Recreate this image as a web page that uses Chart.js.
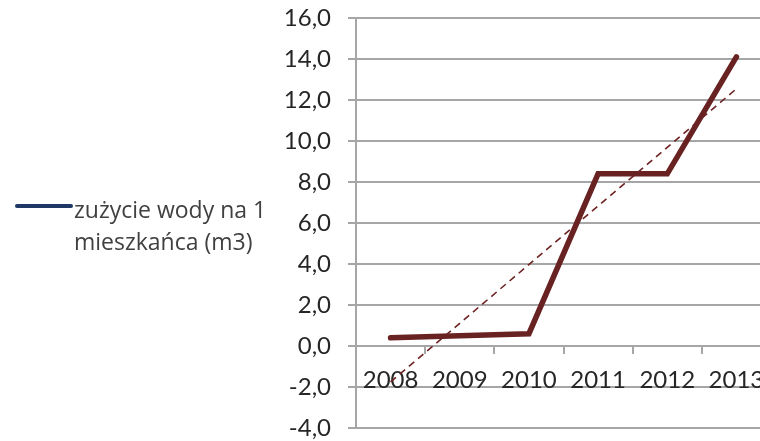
<!DOCTYPE html>
<html>
<head>
<meta charset="utf-8">
<script src="https://cdn.jsdelivr.net/npm/chart.js@4"></script>
<style>
  html, body { margin: 0; padding: 0; background: #fff; overflow: hidden; }
  #wrap { width: 760px; height: 441px; overflow: hidden; }
</style>
</head>
<body>
<div id="wrap"><canvas id="c" width="775" height="441"></canvas></div>
<script>
const years = ["2008", "2009", "2010", "2011", "2012", "2013"];
const water = [0.4, 0.5, 0.6, 8.4, 8.4, 14.1];
// trendline ends, the gap is spanned straight
const trend = [-1.75, null, null, null, null, 12.55];
const legendLines = ["zużycie wody na 1", "mieszkańca (m3)"];

const FONT = "Lato";

const sideLegend = {
  id: 'sideLegend',
  afterDraw(chart) {
    const ctx = chart.ctx;
    ctx.save();
    ctx.strokeStyle = '#1f3864';
    ctx.lineWidth = 4;
    ctx.lineCap = 'round';
    ctx.beginPath();
    ctx.moveTo(17, 206);
    ctx.lineTo(71, 206);
    ctx.stroke();
    ctx.fillStyle = '#404040';
    ctx.font = '23px "Open Sans"';
    ctx.textBaseline = 'middle';
    ctx.fillText(legendLines[0], 74, 211);
    ctx.fillText(legendLines[1], 74, 243);
    ctx.restore();
  }
};

// no extra room for label overflow, chart area comes from layout padding only
function noOverflow(s) {
  s.paddingTop = 0; s.paddingBottom = 0; s.paddingLeft = 0; s.paddingRight = 0;
}

new Chart(document.getElementById('c'), {
  type: 'line',
  data: {
    labels: years,
    datasets: [{
      label: 'trend',
      data: trend,
      spanGaps: true,
      borderColor: '#6e2323',
      borderWidth: 1.6,
      borderDash: [7, 5],
      pointRadius: 0,
      fill: false
    }, {
      label: legendLines.join(' '),
      data: water,
      borderColor: '#692222',
      borderWidth: 5.5,
      borderCapStyle: 'round',
      borderJoinStyle: 'miter',
      pointRadius: 0,
      tension: 0,
      fill: false
    }]
  },
  options: {
    responsive: false,
    animation: false,
    layout: { padding: { left: 280, right: 4, top: 18, bottom: 13 } },
    plugins: { legend: { display: false }, tooltip: { enabled: false } },
    scales: {
      x: {
        position: { y: 0 },
        offset: true,
        afterFit: noOverflow,
        grid: { offset: true, drawOnChartArea: false, tickLength: 7, color: '#a6a6a6', lineWidth: 2 },
        border: { color: '#a6a6a6', width: 2 },
        ticks: { color: '#262626', font: { family: FONT, size: 24 }, padding: 13, maxRotation: 0 }
      },
      y: {
        min: -4,
        max: 16,
        afterFit(s) { noOverflow(s); s.width = 76; },
        grid: { tickLength: 8, color: '#a6a6a6', lineWidth: 2 },
        border: { color: '#a6a6a6', width: 2 },
        ticks: {
          stepSize: 2,
          padding: 17,
          color: '#262626',
          font: { family: FONT, size: 24 },
          callback: v => v.toFixed(1).replace('.', ',')
        }
      }
    }
  },
  plugins: [sideLegend]
});
</script>
</body>
</html>
